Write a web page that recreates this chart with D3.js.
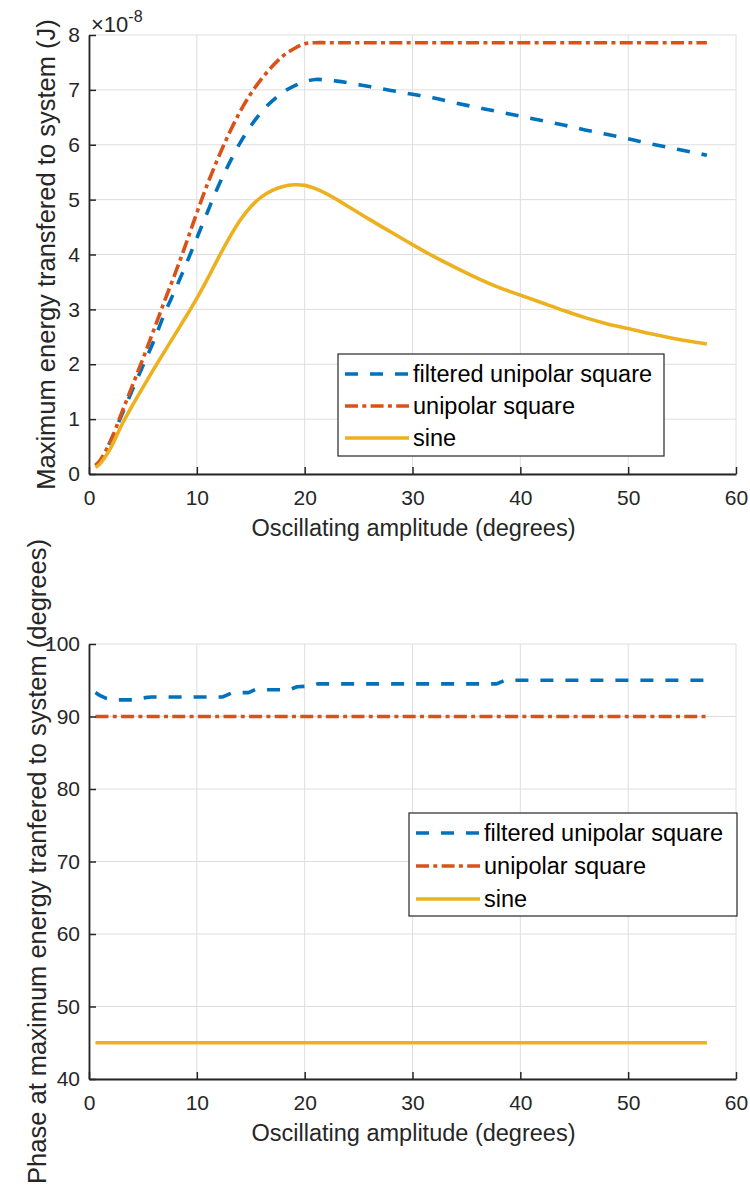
<!DOCTYPE html>
<html>
<head>
<meta charset="utf-8">
<script src="https://cdn.jsdelivr.net/npm/d3@7"></script>
<style>
  html, body { margin: 0; padding: 0; background: #fff; }
  svg { display: block; }
  text { font-family: "Liberation Sans", Arial, sans-serif; fill: #262626; }
</style>
</head>
<body>
<script>
// ---------- data ----------
const xTicks = [0, 10, 20, 30, 40, 50, 60];
const energyTicks = [0, 1, 2, 3, 4, 5, 6, 7, 8];
const phaseTicks = [40, 50, 60, 70, 80, 90, 100];

const seriesNames = ["filtered unipolar square", "unipolar square", "sine"];

// Maximum energy (x 1e-8 J) vs oscillating amplitude (degrees)
const energyAmp = [0.6, 1, 2, 3, 4, 5, 6, 7, 8, 9, 10, 11, 12, 13, 14, 15, 16, 17, 18, 19,
  20, 21, 22, 23, 24, 26, 28, 30, 32, 34, 36, 38, 40, 42, 44, 46, 48, 50, 52, 54, 56, 57.3];
const energyFiltered = [0.15, 0.22, 0.6, 1.06, 1.52, 1.97, 2.42, 2.92, 3.36, 3.82, 4.3, 4.78, 5.25, 5.66, 6.03, 6.34, 6.6, 6.8, 6.96, 7.07,
  7.15, 7.19, 7.18, 7.16, 7.13, 7.06, 6.99, 6.92, 6.85, 6.76, 6.68, 6.6, 6.52, 6.44, 6.36, 6.27, 6.19, 6.11, 6.02, 5.94, 5.86, 5.81];
const energySquare = [0.16, 0.24, 0.6, 1.1, 1.6, 2.1, 2.62, 3.15, 3.66, 4.2, 4.76, 5.29, 5.77, 6.21, 6.6, 6.93, 7.2, 7.43, 7.62, 7.75,
  7.84, 7.86, 7.86, 7.86, 7.86, 7.86, 7.86, 7.86, 7.86, 7.86, 7.86, 7.86, 7.86, 7.86, 7.86, 7.86, 7.86, 7.86, 7.86, 7.86, 7.86, 7.86];
const energySine = [0.12, 0.18, 0.47, 0.88, 1.24, 1.58, 1.91, 2.23, 2.55, 2.87, 3.2, 3.56, 3.94, 4.3, 4.62, 4.87, 5.05, 5.17, 5.24, 5.27,
  5.26, 5.2, 5.11, 5.0, 4.88, 4.64, 4.41, 4.18, 3.96, 3.76, 3.57, 3.4, 3.26, 3.12, 2.98, 2.85, 2.74, 2.65, 2.56, 2.48, 2.41, 2.37];

// Phase at maximum energy (degrees) vs oscillating amplitude (degrees)
const phaseAmpFiltered = [0.6, 1, 1.6, 2.4, 4.2, 5.2, 5.8, 12.4, 13.3, 14.8, 15.4, 18.6, 19.3, 20.6, 21.2, 37.8, 38.6, 57.3];
const phaseFiltered = [93.3, 92.9, 92.5, 92.3, 92.3, 92.6, 92.7, 92.7, 93.3, 93.3, 93.7, 93.7, 94.1, 94.2, 94.5, 94.5, 95.0, 95.0];
const phaseAmp = [0.6, 57.3];
const phaseSquare = [90, 90];
const phaseSine = [45, 45];

// ---------- layout ----------
const W = 750, H = 1186;
const colors = ["#0072BD", "#D95319", "#EDB120"];
const dashes = ["13,12", "13,4.3,4,4.3", null];
const lineW = 3.6;
const axisColor = "#262626";
const gridColor = "#dedede";

const svg = d3.select("body").append("svg").attr("width", W).attr("height", H);

const x = d3.scaleLinear().domain([0, 60]).range([89, 736]);

function drawPanel(cfg) {
  const { y, yTicks, yLabel, yLabelX, series, legend } = cfg;
  const [y0, y1] = y.range(); // bottom, top
  const g = svg.append("g");

  // grid
  g.append("g").selectAll("line").data(xTicks).join("line")
    .attr("x1", d => x(d)).attr("x2", d => x(d))
    .attr("y1", y1).attr("y2", y0)
    .attr("stroke", gridColor).attr("stroke-width", 1);
  g.append("g").selectAll("line").data(yTicks).join("line")
    .attr("x1", x.range()[0]).attr("x2", x.range()[1])
    .attr("y1", d => y(d)).attr("y2", d => y(d))
    .attr("stroke", gridColor).attr("stroke-width", 1);

  // series
  series.forEach((s, i) => {
    const pts = s.xs.map((v, k) => [v, s.ys[k]]);
    const line = d3.line().x(d => x(d[0])).y(d => y(d[1]))
      .curve(s.curve || d3.curveCatmullRom.alpha(0.5));
    g.append("path").datum(pts)
      .attr("d", line)
      .attr("fill", "none")
      .attr("stroke", colors[i])
      .attr("stroke-width", lineW)
      .attr("stroke-dasharray", dashes[i])
      .attr("stroke-linejoin", "round");
  });

  // axes
  const xa = g.append("g").attr("transform", `translate(0,${y0})`)
    .call(d3.axisBottom(x).tickValues(xTicks).tickSizeInner(-7).tickSizeOuter(0).tickPadding(16.5));
  const ya = g.append("g").attr("transform", `translate(${x.range()[0]},0)`)
    .call(d3.axisLeft(y).tickValues(yTicks).tickSizeInner(-7).tickSizeOuter(0).tickPadding(9));
  [xa, ya].forEach(a => {
    a.select(".domain").attr("stroke", axisColor).attr("stroke-width", 1.8);
    a.selectAll(".tick line").attr("stroke", axisColor).attr("stroke-width", 1.5);
    a.selectAll(".tick text").attr("fill", axisColor).style("font-size", "21px")
      .style("font-family", '"Liberation Sans", Arial, sans-serif');
  });

  // axis titles
  g.append("text")
    .attr("x", (x.range()[0] + x.range()[1]) / 2 + 1)
    .attr("y", y0 + 62)
    .attr("text-anchor", "middle")
    .style("font-size", "23.5px")
    .text("Oscillating amplitude (degrees)");
  g.append("text")
    .attr("transform", `translate(${yLabelX},${(y0 + y1) / 2}) rotate(-90)`)
    .attr("text-anchor", "middle")
    .style("font-size", "25.5px")
    .text(yLabel);

  // legend
  const lg = g.append("g");
  lg.append("rect")
    .attr("x", legend.x).attr("y", legend.y)
    .attr("width", legend.w).attr("height", legend.h)
    .attr("fill", "#fff").attr("stroke", axisColor).attr("stroke-width", 1.2);
  seriesNames.forEach((name, i) => {
    const cy = legend.y + legend.firstRow + i * legend.rowH;
    lg.append("line")
      .attr("x1", legend.x + 7).attr("x2", legend.x + 71)
      .attr("y1", cy).attr("y2", cy)
      .attr("stroke", colors[i]).attr("stroke-width", lineW)
      .attr("stroke-dasharray", dashes[i]);
    lg.append("text")
      .attr("x", legend.x + 75).attr("y", cy)
      .attr("dy", "0.35em")
      .style("font-size", "23.5px")
      .style("fill", "#000")
      .text(name);
  });
  return g;
}

// upper panel: maximum energy
const yE = d3.scaleLinear().domain([0, 8]).range([474, 35]);
const energyPanel = drawPanel({
  y: yE,
  yTicks: energyTicks,
  yLabel: "Maximum energy transfered to system (J)",
  yLabelX: 55,
  series: [
    { xs: energyAmp, ys: energyFiltered },
    { xs: energyAmp, ys: energySquare },
    { xs: energyAmp, ys: energySine }
  ],
  legend: { x: 338, y: 354, w: 326, h: 102, firstRow: 20, rowH: 32 }
});

// exponent label of the energy axis
const expo = energyPanel.append("text").attr("x", 91).attr("y", 32).style("font-size", "22px");
expo.append("tspan").text("\u00d710");
expo.append("tspan").attr("dy", -10).style("font-size", "16px").text("-8");

// lower panel: phase
const yP = d3.scaleLinear().domain([40, 100]).range([1079, 644]);
drawPanel({
  y: yP,
  yTicks: phaseTicks,
  yLabel: "Phase at maximum energy tranfered to system (degrees)",
  yLabelX: 46,
  series: [
    { xs: phaseAmpFiltered, ys: phaseFiltered, curve: d3.curveLinear },
    { xs: phaseAmp, ys: phaseSquare, curve: d3.curveLinear },
    { xs: phaseAmp, ys: phaseSine, curve: d3.curveLinear }
  ],
  legend: { x: 409, y: 813, w: 328, h: 103, firstRow: 20, rowH: 33 }
});
</script>
</body>
</html>
